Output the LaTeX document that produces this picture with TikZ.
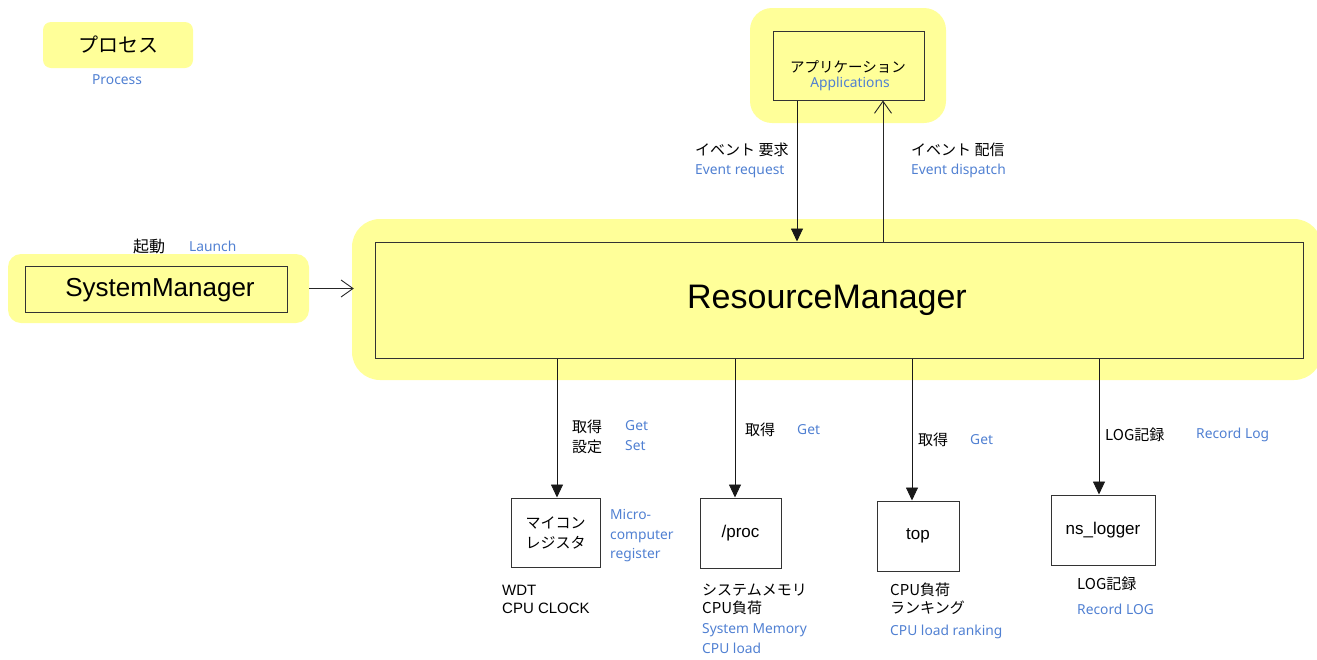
\documentclass[tikz,border=0pt]{standalone}
\usepackage{fontspec}
\setmainfont{Liberation Sans}
\newfontfamily\jp{Noto Sans CJK JP}
\newfontfamily\en{Noto Sans}
\usetikzlibrary{arrows.meta}
\definecolor{hl}{RGB}{255,255,153}
\definecolor{lblue}{RGB}{80,128,210}
\definecolor{edge}{RGB}{51,51,51}
\tikzset{
  bg/.style={fill=hl, draw=none},
  box/.style={draw=edge, line width=1pt, fill=none, inner sep=0pt},
  jl/.style={font=\jp\fontsize{15}{19}\selectfont, anchor=west, align=left, inner sep=0pt},
  ll/.style={font=\fontsize{15}{18}\selectfont, anchor=west, align=left, inner sep=0pt},
  bl/.style={font=\en\fontsize{13.8}{19.5}\selectfont, text=lblue, anchor=west, align=left, inner sep=0pt},
  flow/.style={draw=black!90, line width=0.9pt, -{Triangle[length=13pt,width=12pt]}},
  open/.style={draw=black!85, line width=0.9pt, -{Straight Barb[length=12pt,width=17pt]}},
}
\begin{document}
\begin{tikzpicture}[x=1pt,y=-1pt]
\useasboundingbox (0,0) rectangle (1317,659);

% legend
\node[bg, rounded corners=8pt, minimum width=150pt, minimum height=46pt,
      font=\jp\fontsize{20}{24}\selectfont] (legend) at (118,45) {プロセス};
\node[bl, anchor=center] (legendEn) at (117,80) {Process};

% application block
\node[bg, rounded corners=22pt, minimum width=196pt, minimum height=115pt] (appbg) at (848,65.5) {};
\node[box, minimum width=151pt, minimum height=69pt] (app) at (848.5,65.5) {};
\node[font=\jp\fontsize{14.5}{17}\selectfont, inner sep=0pt] (appJp) at (848,67) {アプリケーション};
\node[bl, anchor=center] (appEn) at (850,84) {Applications};

% resource manager
\node[bg, rounded corners=28pt, minimum width=970pt, minimum height=161pt] (rmbg) at (837,299.5) {};
\node[box, minimum width=928pt, minimum height=116pt] (rm) at (839,300) {};
\node[font=\fontsize{34}{40}\selectfont, inner sep=0pt] (rmText) at (827,300) {ResourceManager};

% system manager
\node[bg, rounded corners=13pt, minimum width=301pt, minimum height=69pt] (smbg) at (158.5,288.5) {};
\node[box, minimum width=262pt, minimum height=46pt] (sm) at (156,289) {};
\node[font=\fontsize{26}{30}\selectfont, inner sep=0pt] (smText) at (160,290) {SystemManager};

% launch
\draw[open] (smbg.east) -- ([xshift=2pt]rmbg.west |- smbg.east);
\node[jl, font=\jp\fontsize{16}{19}\selectfont] (launchJp) at (133,246) {起動};
\node[bl] (launchEn) at (189,246) {Launch};

% events between applications and the resource manager
\draw[flow] (app.south -| 797,0) -- (rm.north -| 797,0);
\draw[open] (rm.north -| 883,0) -- (app.south -| 883,0);
\node[jl] (reqJp) at (695,150) {イベント 要求};
\node[bl] (reqEn) at (695,171) {Event request};
\node[jl] (dspJp) at (911,150) {イベント 配信};
\node[bl] (dspEn) at (911,171) {Event dispatch};

% lower resources
\node[box, minimum width=89pt, minimum height=69pt, align=center,
      font=\jp\fontsize{15}{20}\selectfont] (mcu) at (555.5,532.5) {マイコン\\レジスタ};
\node[box, minimum width=81pt, minimum height=70pt,
      font=\fontsize{17}{20}\selectfont] (proc) at (740.5,533) {/proc};
\node[box, minimum width=82pt, minimum height=70pt,
      font=\fontsize{17}{20}\selectfont] (top) at (918,536) {top};
\node[box, minimum width=104pt, minimum height=70pt,
      font=\fontsize{17}{20}\selectfont] (log) at (1103,530) {ns\_logger};

\draw[flow] (rm.south -| 557,0) -- ([xshift=1.5pt]mcu.north);
\draw[flow] (rm.south -| 735,0) -- ([xshift=-5.5pt]proc.north);
\draw[flow] (rm.south -| 912,0) -- ([xshift=-6pt]top.north);
\draw[flow] (rm.south -| 1099,0) -- ([xshift=-4pt]log.north);

% connector labels
\node[jl, font=\jp\fontsize{15}{20}\selectfont] (mcuOpJp) at (572,437) {取得\\設定};
\node[bl, font=\en\fontsize{13.8}{20}\selectfont] (mcuOpEn) at (625,436) {Get\\Set};
\node[jl] (procOpJp) at (745,430) {取得};
\node[bl] (procOpEn) at (797,430) {Get};
\node[jl] (topOpJp) at (918,440) {取得};
\node[bl] (topOpEn) at (970,440) {Get};
\node[jl] (logOpJp) at (1105,435) {LOG記録};
\node[bl] (logOpEn) at (1196,435) {Record Log};

% resource descriptions
\node[bl] (mcuEn) at (610,536) {Micro-\\computer\\register};
\node[ll] (mcuDesc) at (502,599) {WDT\\CPU CLOCK};
\node[jl, font=\jp\fontsize{15}{18}\selectfont] (procJp) at (702,599) {システムメモリ\\CPU負荷};
\node[bl] (procEn) at (702,638.5) {System Memory\\CPU load};
\node[jl, font=\jp\fontsize{15}{18}\selectfont] (topJp) at (890,599) {CPU負荷\\ランキング};
\node[bl] (topEn) at (890,632) {CPU load ranking};
\node[jl] (logJp) at (1077,584) {LOG記録};
\node[bl] (logEn) at (1077,609) {Record LOG};
\end{tikzpicture}
\end{document}
